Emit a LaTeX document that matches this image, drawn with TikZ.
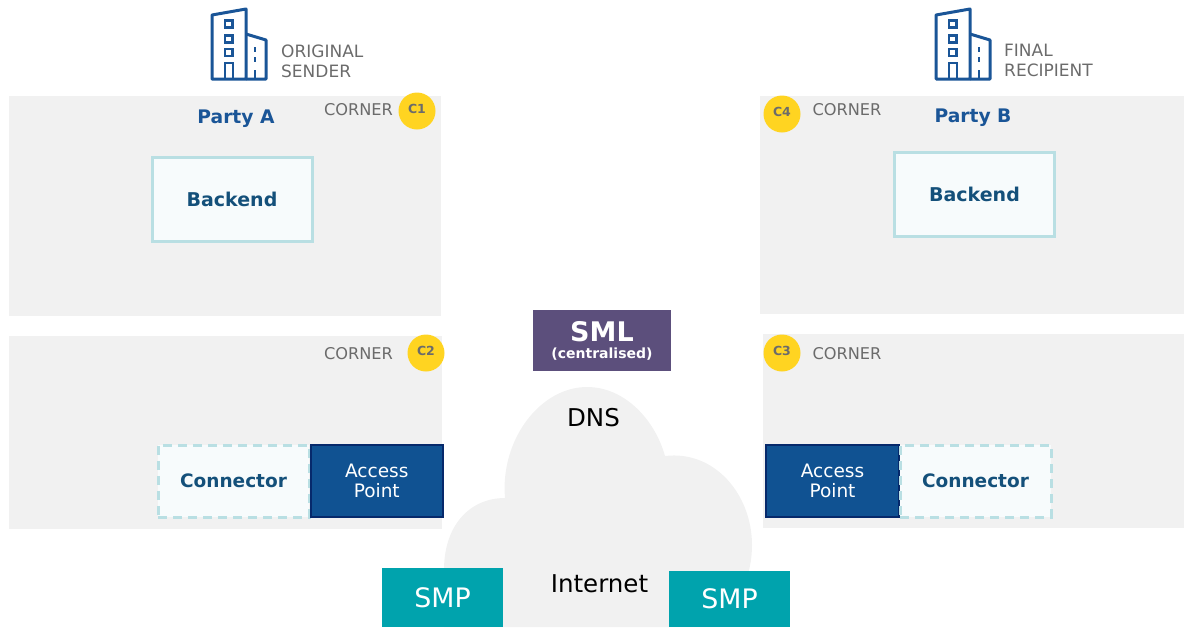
\documentclass[tikz,border=0pt]{standalone}
\usepackage{fontspec}
\usepackage{xcolor}
\setmainfont{DejaVu Sans}
\usetikzlibrary{positioning}
\definecolor{panelgrey}{HTML}{F1F1F1}
\definecolor{partyblue}{HTML}{1A5597}
\definecolor{apblue}{HTML}{105292}
\definecolor{apedge}{HTML}{06296B}
\definecolor{boxedge}{HTML}{B9DFE3}
\definecolor{boxfill}{HTML}{F7FBFC}
\definecolor{boxtext}{HTML}{14507A}
\definecolor{cornergrey}{HTML}{6B6B6B}
\definecolor{badge}{HTML}{FFD421}
\definecolor{smlpurple}{HTML}{5C4F7C}
\definecolor{smpteal}{HTML}{00A3AD}
\tikzset{building/.pic={
	\draw[partyblue, line width=3pt, line join=round] (-34,70) -- (-34,6) -- (0,0) -- (0,70) -- cycle;
	\draw[partyblue, line width=3pt, line join=round] (0,25) -- (20,31) -- (20,70) -- (0,70);
	\foreach \wy in {11.5,26.5,40}
		\draw[partyblue, line width=2.6pt] (-21,\wy) rectangle (-13.5,\wy+7);
	\draw[partyblue, line width=2.6pt] (-21,70) -- (-21,54) -- (-13,54) -- (-13,70);
	\draw[partyblue, line width=2.6pt] (9,38) -- (9,43) (9,48) -- (9,53) (9,61) -- (9,70);
}}
\begin{document}
\begin{tikzpicture}[x=1pt,y=-1pt]
	\tikzstyle{panel}=[fill=panelgrey]
	\tikzstyle{party}=[font=\bfseries\fontsize{18.7}{22}\selectfont, text=partyblue]
	\tikzstyle{backend}=[draw=boxedge, line width=3pt, fill=boxfill, text=boxtext, font=\bfseries\fontsize{19}{23}\selectfont, minimum width=160pt, minimum height=84pt, inner sep=0pt]
	\tikzstyle{connector}=[backend, dashed, dash pattern=on 9pt off 6pt, font=\bfseries\fontsize{18.5}{23}\selectfont, minimum width=151pt, minimum height=72pt]
	\tikzstyle{accesspoint}=[draw=apedge, line width=2pt, fill=apblue, text=white, align=center, font=\fontsize{18.5}{20}\selectfont, minimum width=131.5pt, minimum height=72pt, inner sep=0pt]
	\tikzstyle{corner}=[text=cornergrey, font=\fontsize{16.2}{18}\selectfont, inner sep=0pt]
	\tikzstyle{role}=[corner, align=left, font=\fontsize{17}{18}\selectfont]
	\tikzstyle{cid}=[circle, fill=badge, text=cornergrey, font=\bfseries\fontsize{12.5}{13}\selectfont, minimum size=37pt, inner sep=0pt]
	\tikzstyle{smp}=[fill=smpteal, text=white, font=\fontsize{26.8}{28}\selectfont, minimum width=121pt, inner sep=0pt]
	\tikzstyle{cloudtext}=[text=black, font=\fontsize{24.5}{26}\selectfont, inner sep=0pt]

	\useasboundingbox (0,0) rectangle (1184,627);

	% corner areas
	\fill[panel] (9,96) rectangle (441,316);
	\fill[panel] (760,96) rectangle (1184,314);
	\fill[panel] (9,336) rectangle (442,529);
	\fill[panel] (763,334) rectangle (1184,528);

	% cloud
	\fill[panel] (444,627) -- (444,570) .. controls (444,525) and (470,498) .. (505,498)
		.. controls (500,440) and (540,387) .. (587,387)
		.. controls (625,387) and (655,420) .. (665,456)
		.. controls (715,450) and (752,495) .. (752,545)
		.. controls (752,575) and (740,600) .. (720,627) -- cycle;

	\pic at (246,9) {building};
	\pic at (970,9) {building};
	\node (sender) [role, anchor=west] at (281,61) {ORIGINAL\\[2pt]SENDER};
	\node (recipient) [role, anchor=west] at (1004,60) {FINAL\\[2pt]RECIPIENT};

	\node (partyA) [party] at (236,119) {Party A};
	\node (cornerA) [corner] at (358.5,110) {CORNER};
	\node (c1) [cid] at (417,111) {\raisebox{5pt}{C1}};
	\node (backendA) [backend] at (232,199.5) {Backend};

	\node (partyB) [party] at (973,118) {Party B};
	\node (cornerB) [corner] at (847,110) {CORNER};
	\node (c4) [cid] at (782,114) {\raisebox{5pt}{C4}};
	\node (backendB) [backend] at (974.5,194.5) {Backend};

	\node (cornerC) [corner] at (358.5,354) {CORNER};
	\node (c2) [cid] at (426,353) {\raisebox{5pt}{C2}};
	\node (connA) [connector] at (233.5,481) {Connector};
	\node (apA) [accesspoint, right=-0.5pt of connA] {Access\\Point};

	\node (cornerD) [corner] at (847,354) {CORNER};
	\node (c3) [cid] at (782,353) {\raisebox{5pt}{C3}};
	\node (apB) [accesspoint, minimum width=133pt] at (832.5,481) {Access\\Point};
	\node (connB) [connector, right=-1.5pt of apB] {Connector};

	\node (sml) [fill=smlpurple, text=white, align=center, font=\bfseries, minimum width=138pt, minimum height=61pt, inner sep=0pt] at (602,340.5)
		{\fontsize{27}{27}\selectfont SML\\[5pt]\fontsize{14}{17}\selectfont (centralised)};

	\node (dns) [cloudtext] at (593.5,418) {DNS};
	\node (internet) [cloudtext] at (599.5,584) {Internet};
	\node (smpA) [smp, minimum height=59pt] at (442.5,597.5) {SMP};
	\node (smpB) [smp, minimum height=56pt] at (729.5,599) {SMP};
\end{tikzpicture}
\end{document}
